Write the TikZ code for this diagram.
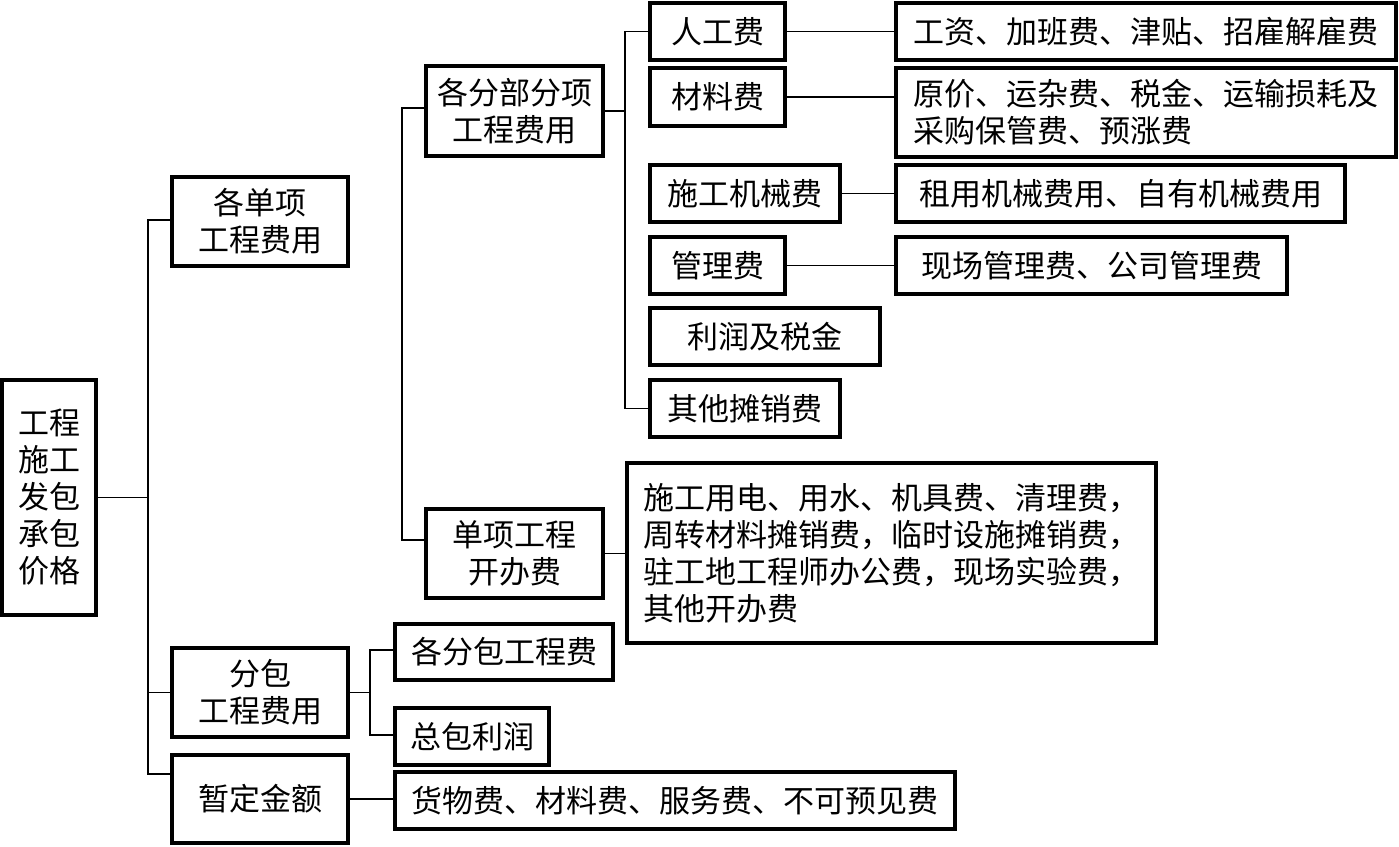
\documentclass[tikz,border=0pt]{standalone}
\usepackage{fontspec}
\setmainfont{Noto Sans CJK SC}
\begin{document}
\begin{tikzpicture}[x=1pt,y=-1pt,
  box/.style={draw=black, line width=3.4pt, inner sep=0pt, align=center,
    font=\fontsize{31}{37}\selectfont},
  conn/.style={draw=black, line width=1.6pt}]
\useasboundingbox[fill=white] (0,0) rectangle (1399,846);
% level 0
\node[box, minimum width=94, minimum height=235] (root) at (49,497.5) {工程\\施工\\发包\\承包\\价格};
% level 1
\node[box, minimum width=176, minimum height=89] (a) at (260,221.5) {各单项\\工程费用};
\node[box, minimum width=176, minimum height=89] (b) at (260,692.5) {分包\\工程费用};
\node[box, minimum width=176, minimum height=88] (c) at (260,799) {暂定金额};
% level 2
\node[box, minimum width=177, minimum height=90] (d) at (514.5,111) {各分部分项\\工程费用};
\node[box, minimum width=177, minimum height=89] (e) at (514.5,553.5) {单项工程\\开办费};
\node[box, minimum width=218, minimum height=56] (q) at (504,652) {各分包工程费};
\node[box, minimum width=154, minimum height=57] (r) at (472,736.5) {总包利润};
\node[box, minimum width=560, minimum height=57] (s) at (675,800.5) {货物费、材料费、服务费、不可预见费};
% level 3
\node[box, minimum width=135, minimum height=57] (f) at (717.5,31.5) {人工费};
\node[box, minimum width=135, minimum height=58] (g) at (717.5,97) {材料费};
\node[box, minimum width=190, minimum height=57] (h) at (745,193.5) {施工机械费};
\node[box, minimum width=135, minimum height=57] (i) at (717.5,265.5) {管理费};
\node[box, minimum width=230, minimum height=57] (j) at (765,336.5) {利润及税金};
\node[box, minimum width=190, minimum height=57] (k) at (745,408.5) {其他摊销费};
\node[box, minimum width=529, minimum height=180, align=left] (p) at (891.5,553) {施工用电、用水、机具费、清理费，\\周转材料摊销费，临时设施摊销费，\\驻工地工程师办公费，现场实验费，\\其他开办费};
% level 4
\node[box, minimum width=500, minimum height=57] (l) at (1146,31.5) {工资、加班费、津贴、招雇解雇费};
\node[box, minimum width=500, minimum height=89, align=left] (m) at (1146,112.5) {原价、运杂费、税金、运输损耗及\\采购保管费、预涨费};
\node[box, minimum width=449, minimum height=57] (n) at (1120.5,193.5) {租用机械费用、自有机械费用};
\node[box, minimum width=391, minimum height=57] (o) at (1091.5,265.5) {现场管理费、公司管理费};
% helper coordinates
\coordinate (t0) at (148,774);
\coordinate (t2) at (402,0);
\coordinate (t3) at (625,0);
\coordinate (t4) at (370,0);
% connectors
\draw[conn] (root.east) -- (root.east -| t0);
\draw[conn] ([yshift=1.5pt]a.west) -| (t0) -- (t0 -| c.west);
\draw[conn] (b.west) -- (b.west -| t0);
\draw[conn] ([yshift=3pt]d.west) -| ([yshift=13.5pt]e.west -| t2) -- ([yshift=13.5pt]e.west);
\draw[conn] (d.east) -- (d.east -| t3);
\draw[conn] (f.west) -| (k.west -| t3) -- (k.west);
\draw[conn] (f.east) -- (f.east -| l.west);
\draw[conn] (g.east) -- (g.east -| m.west);
\draw[conn] (h.east) -- (h.east -| n.west);
\draw[conn] (i.east) -- (i.east -| o.west);
\draw[conn] (e.east) -- (e.east -| p.west);
\draw[conn] (b.east) -- (b.east -| t4);
\draw[conn] ([yshift=2pt]q.west) -| ([yshift=1.5pt]r.west -| t4) -- ([yshift=1.5pt]r.west);
\draw[conn] (c.east) -- (c.east -| s.west);
\end{tikzpicture}
\end{document}
